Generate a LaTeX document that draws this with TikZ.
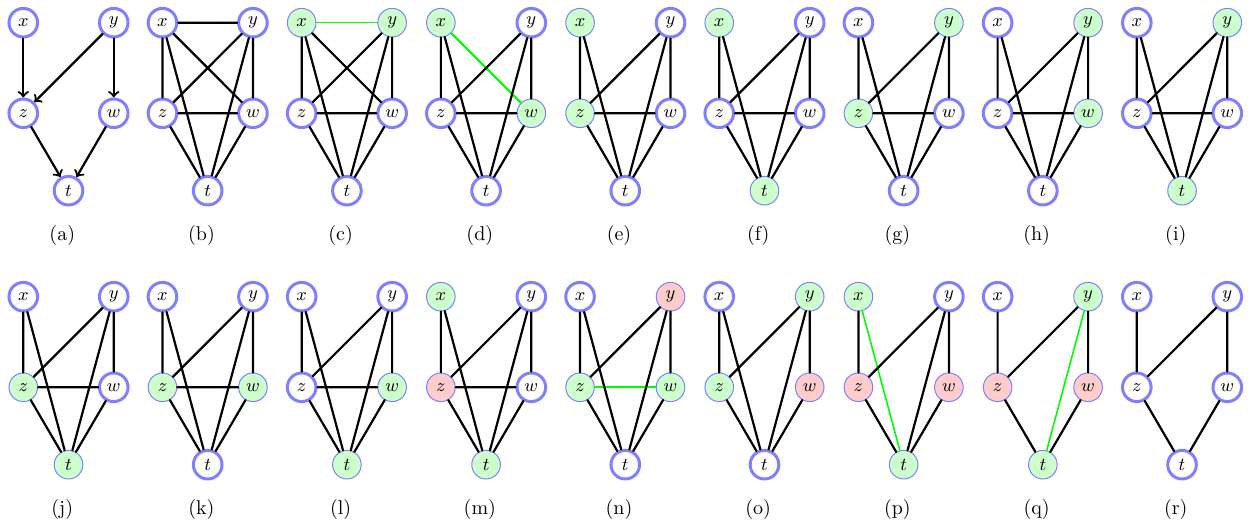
\documentclass[tikz,border=0pt]{standalone}
\usepackage{amsmath,amssymb}
\usepackage{tikz}
\usepackage{xcolor}

\tikzset{
  vtx/.style={circle,draw=blue!50,line width=1.5pt,fill=white,minimum size=14.3pt,inner sep=0pt,font=\small},
  vsel/.style={vtx,line width=0.5pt,fill=green!20},
  vout/.style={vtx,line width=0.5pt,fill=red!20},
  link/.style={line width=1.1pt},
  hot/.style={green,line width=1.1pt},
  hotthin/.style={green,line width=0.8pt},
  sublabel/.style={font=\normalsize}
}

% five vertices of one small graph: prefix, shift x, shift y, styles of x,y,z,w,t
\newcommand{\gnodes}[8]{%
\begin{scope}[shift={(#2,#3)}]
\node[#4] (#1x) at (0,0) {$x$};
\node[#5] (#1y) at (1.59,0) {$y$};
\node[#6] (#1z) at (0,-1.592) {$z$};
\node[#7] (#1w) at (1.59,-1.592) {$w$};
\node[#8] (#1t) at (0.795,-2.952) {$t$};
\node[sublabel] (#1lab) at (0.685,-3.74) {(#1)};
\end{scope}}

\begin{document}
\begin{tikzpicture}[line cap=round]
\useasboundingbox (-0.409,0.399) rectangle (21.61,-8.809);
% first row
\gnodes{a}{0}{0}{vtx}{vtx}{vtx}{vtx}{vtx}
\draw[link,->] (ax) -- (az);
\draw[link,->] (ay) -- (az);
\draw[link,->] (ay) -- (aw);
\draw[link,->] (az) -- (at);
\draw[link,->] (aw) -- (at);
\gnodes{b}{2.446}{0}{vtx}{vtx}{vtx}{vtx}{vtx}
\draw[link] (bx) -- (by) (bx) -- (bz) (bx) -- (bw) (bx) -- (bt) (by) -- (bz);
\draw[link] (by) -- (bw) (by) -- (bt) (bz) -- (bw) (bz) -- (bt) (bw) -- (bt);
\gnodes{c}{4.892}{0}{vsel}{vsel}{vtx}{vtx}{vtx}
\draw[hotthin] (cx) -- (cy);
\draw[link] (cx) -- (cz) (cx) -- (cw) (cx) -- (ct) (cy) -- (cz);
\draw[link] (cy) -- (cw) (cy) -- (ct) (cz) -- (cw) (cz) -- (ct) (cw) -- (ct);
\gnodes{d}{7.338}{0}{vsel}{vtx}{vtx}{vsel}{vtx}
\draw[hot] (dx) -- (dw);
\draw[link] (dx) -- (dz) (dx) -- (dt) (dy) -- (dz);
\draw[link] (dy) -- (dw) (dy) -- (dt) (dz) -- (dw) (dz) -- (dt) (dw) -- (dt);
\gnodes{e}{9.784}{0}{vsel}{vtx}{vsel}{vtx}{vtx}
\draw[link] (ex) -- (ez) (ex) -- (et) (ey) -- (ez);
\draw[link] (ey) -- (ew) (ey) -- (et) (ez) -- (ew) (ez) -- (et) (ew) -- (et);
\gnodes{f}{12.23}{0}{vsel}{vtx}{vtx}{vtx}{vsel}
\draw[link] (fx) -- (fz) (fx) -- (ft) (fy) -- (fz);
\draw[link] (fy) -- (fw) (fy) -- (ft) (fz) -- (fw) (fz) -- (ft) (fw) -- (ft);
\gnodes{g}{14.676}{0}{vtx}{vsel}{vsel}{vtx}{vtx}
\draw[link] (gx) -- (gz) (gx) -- (gt) (gy) -- (gz);
\draw[link] (gy) -- (gw) (gy) -- (gt) (gz) -- (gw) (gz) -- (gt) (gw) -- (gt);
\gnodes{h}{17.122}{0}{vtx}{vsel}{vtx}{vsel}{vtx}
\draw[link] (hx) -- (hz) (hx) -- (ht) (hy) -- (hz);
\draw[link] (hy) -- (hw) (hy) -- (ht) (hz) -- (hw) (hz) -- (ht) (hw) -- (ht);
\gnodes{i}{19.568}{0}{vtx}{vsel}{vtx}{vtx}{vsel}
\draw[link] (ix) -- (iz) (ix) -- (it) (iy) -- (iz);
\draw[link] (iy) -- (iw) (iy) -- (it) (iz) -- (iw) (iz) -- (it) (iw) -- (it);
% second row
\gnodes{j}{0}{-4.815}{vtx}{vtx}{vsel}{vtx}{vsel}
\draw[link] (jx) -- (jz) (jx) -- (jt) (jy) -- (jz);
\draw[link] (jy) -- (jw) (jy) -- (jt) (jz) -- (jw) (jz) -- (jt) (jw) -- (jt);
\gnodes{k}{2.446}{-4.815}{vtx}{vtx}{vsel}{vsel}{vtx}
\draw[link] (kx) -- (kz) (kx) -- (kt) (ky) -- (kz);
\draw[link] (ky) -- (kw) (ky) -- (kt) (kz) -- (kw) (kz) -- (kt) (kw) -- (kt);
\gnodes{l}{4.892}{-4.815}{vtx}{vtx}{vtx}{vsel}{vsel}
\draw[link] (lx) -- (lz) (lx) -- (lt) (ly) -- (lz);
\draw[link] (ly) -- (lw) (ly) -- (lt) (lz) -- (lw) (lz) -- (lt) (lw) -- (lt);
\gnodes{m}{7.338}{-4.815}{vsel}{vtx}{vout}{vtx}{vsel}
\draw[link] (mx) -- (mz) (mx) -- (mt) (my) -- (mz);
\draw[link] (my) -- (mw) (my) -- (mt) (mz) -- (mw) (mz) -- (mt) (mw) -- (mt);
\gnodes{n}{9.784}{-4.815}{vtx}{vout}{vsel}{vsel}{vtx}
\draw[hotthin] (nz) -- (nw);
\draw[link] (nx) -- (nz) (nx) -- (nt) (ny) -- (nz);
\draw[link] (ny) -- (nw) (ny) -- (nt) (nz) -- (nt) (nw) -- (nt);
\gnodes{o}{12.23}{-4.815}{vtx}{vsel}{vsel}{vout}{vtx}
\draw[link] (ox) -- (oz) (ox) -- (ot) (oy) -- (oz);
\draw[link] (oy) -- (ow) (oy) -- (ot) (oz) -- (ot) (ow) -- (ot);
\gnodes{p}{14.676}{-4.815}{vsel}{vtx}{vout}{vout}{vsel}
\draw[hotthin] (px) -- (pt);
\draw[link] (px) -- (pz) (py) -- (pz);
\draw[link] (py) -- (pw) (py) -- (pt) (pz) -- (pt) (pw) -- (pt);
\gnodes{q}{17.122}{-4.815}{vtx}{vsel}{vout}{vout}{vsel}
\draw[hotthin] (qy) -- (qt);
\draw[link] (qx) -- (qz) (qy) -- (qz);
\draw[link] (qy) -- (qw) (qz) -- (qt) (qw) -- (qt);
\gnodes{r}{19.568}{-4.815}{vtx}{vtx}{vtx}{vtx}{vtx}
\draw[link] (rx) -- (rz) (ry) -- (rz);
\draw[link] (ry) -- (rw) (rz) -- (rt) (rw) -- (rt);
\end{tikzpicture}
\end{document}
